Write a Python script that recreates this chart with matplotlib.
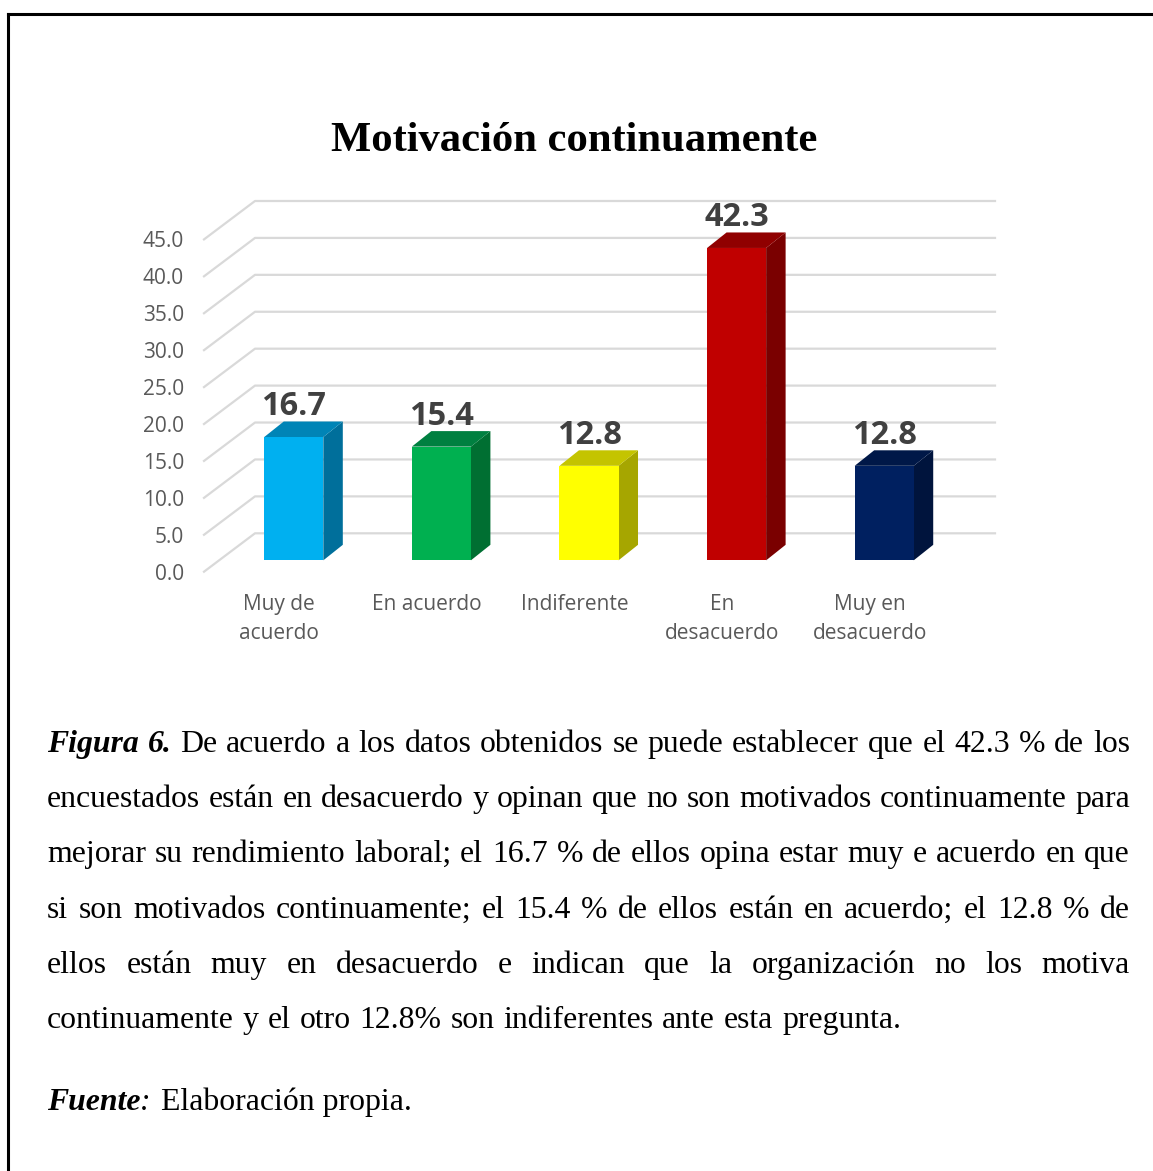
"""Figura 6: Motivacion continuamente -- pseudo-3D column chart with justified caption below."""

import matplotlib
matplotlib.use("Agg")
import matplotlib.pyplot as plt
from matplotlib.lines import Line2D

W, H = 1153, 1171

CATEGORIES = ["Muy de\nacuerdo", "En acuerdo", "Indiferente", "En\ndesacuerdo", "Muy en\ndesacuerdo"]
VALUES = [16.7, 15.4, 12.8, 42.3, 12.8]
Y_TICKS = [0, 5, 10, 15, 20, 25, 30, 35, 40, 45]
FRONT_COLORS = ["#00B0F0", "#00B050", "#FFFF00", "#C00000", "#002060"]
SIDE_COLORS = ["#006F9B", "#006F32", "#A6A600", "#7A0000", "#00143D"]
TOP_COLORS = ["#0084B6", "#008040", "#C4C400", "#900000", "#001848"]

TITLE = "Motivación continuamente"
CAPTION_LINES = [
    "Figura 6. De acuerdo a los datos obtenidos se puede establecer que el 42.3 % de los",
    "encuestados están en desacuerdo y opinan que no son motivados continuamente para",
    "mejorar su rendimiento laboral; el 16.7 % de ellos opina estar muy e acuerdo en que",
    "si son motivados continuamente; el 15.4 % de ellos están en acuerdo; el 12.8 % de",
    "ellos están muy en desacuerdo e indican que la organización no los motiva",
    "continuamente y el otro 12.8% son indiferentes ante esta pregunta.",
]
BOLD_WORDS = ["Figura", "6."]
SOURCE_LABEL = "Fuente"
SOURCE_TEXT = "Elaboración propia."

# Depth offsets of the fake 3D, in data units (x: categories, y: value).
WALL_DX, WALL_DY = 0.3455, 5.2
BAR_DX, BAR_DY = 0.132, 2.1
BAR_LEFT, BAR_WIDTH, BAR_BASE = -0.1016, 0.40, 1.54

SERIF = "Liberation Serif"
TEXT_SIZE = 22.9


def px_text(fig, x, y, s, **kw):
    return fig.text(x / W, 1 - y / H, s, **kw)


def justified_line(fig, line, baseline, justify):
    left, right = 47, 1130
    words = line.split(" ")
    items = []
    for w in words:
        bold = w in BOLD_WORDS
        items.append(px_text(fig, left, baseline, w, family=SERIF, fontsize=TEXT_SIZE,
                             fontweight="bold" if bold else "normal",
                             fontstyle="italic" if bold else "normal",
                             va="baseline", color="black"))
    renderer = fig.canvas.get_renderer()
    widths = [t.get_window_extent(renderer).width for t in items]
    gap = (right - left - sum(widths)) / (len(items) - 1) if justify else 8.9
    x = left
    for t, w in zip(items, widths):
        t.set_x(x / W)
        x += w + gap


def main():
    fig = plt.figure(figsize=(W / 100, H / 100), dpi=100, facecolor="white")
    ax = fig.add_axes([204 / W, 1 - 571.7 / H, 791 / W, 370.7 / H])
    ax.set_xlim(-0.51, 4.849)
    ax.set_ylim(0, 50.2)
    ax.patch.set_visible(False)
    for s in ax.spines.values():
        s.set_visible(False)

    # Floor/wall gridlines: diagonal on the side wall, horizontal on the back wall.
    for v in Y_TICKS:
        x0 = ax.get_xlim()[0]
        ax.plot([x0, x0 + WALL_DX, ax.get_xlim()[1]], [v, v + WALL_DY, v + WALL_DY],
                color="#d9d9d9", linewidth=1.6, clip_on=False, zorder=1)

    for i, v in enumerate(VALUES):
        x0 = i + BAR_LEFT
        x1 = x0 + BAR_WIDTH
        y0 = BAR_BASE
        y1 = BAR_BASE + v
        ax.fill([x1, x1 + BAR_DX, x1 + BAR_DX, x1], [y0, y0 + BAR_DY, y1 + BAR_DY, y1],
                color=SIDE_COLORS[i], linewidth=0, zorder=3)
        ax.fill([x0, x0 + BAR_DX, x1 + BAR_DX, x1], [y1, y1 + BAR_DY, y1 + BAR_DY, y1],
                color=TOP_COLORS[i], linewidth=0, zorder=3)
        ax.fill([x0, x1, x1, x0], [y0, y0, y1, y1], color=FRONT_COLORS[i], linewidth=0, zorder=4)
        ax.text((x0 + x1) / 2, y1 + BAR_DY - 0.2, f"{v:.1f}", ha="center", va="bottom",
                family="Open Sans", fontweight="bold", fontsize=23.4, color="#404040", zorder=5)

    ax.set_yticks(Y_TICKS)
    ax.set_yticklabels([f"{v:.1f}" for v in Y_TICKS], family="Open Sans", fontsize=15, color="#595959")
    ax.set_xticks(range(len(CATEGORIES)))
    ax.set_xticklabels(CATEGORIES, family="Open Sans", fontsize=15, color="#595959", linespacing=1.5)
    ax.tick_params(axis="y", length=0, pad=14.5)
    ax.tick_params(axis="x", length=0, pad=16)

    # Page frame, open to the right and bottom.
    for xs, ys in [((8, 8), (14, H)), ((8, W), (14, 14))]:
        fig.add_artist(Line2D([x / W for x in xs], [1 - y / H for y in ys], color="black", linewidth=2.2))

    px_text(fig, 574.5, 141, TITLE, family=SERIF, fontweight="bold", fontsize=30.7,
            ha="center", va="center", color="black")

    fig.canvas.draw()
    baselines = [752, 807, 862, 918, 973, 1028]
    for k, (line, y) in enumerate(zip(CAPTION_LINES, baselines)):
        justified_line(fig, line, y, justify=k < len(CAPTION_LINES) - 1)

    px_text(fig, 47, 1110, SOURCE_LABEL, family=SERIF, fontweight="bold", fontstyle="italic",
            fontsize=TEXT_SIZE, va="baseline")
    px_text(fig, 140, 1110, ":", family=SERIF, fontstyle="italic", fontsize=TEXT_SIZE, va="baseline")
    px_text(fig, 161, 1110, SOURCE_TEXT, family=SERIF, fontsize=TEXT_SIZE, va="baseline")

    fig.savefig("out.png", dpi=100)
    plt.close(fig)


if __name__ == "__main__":
    main()
